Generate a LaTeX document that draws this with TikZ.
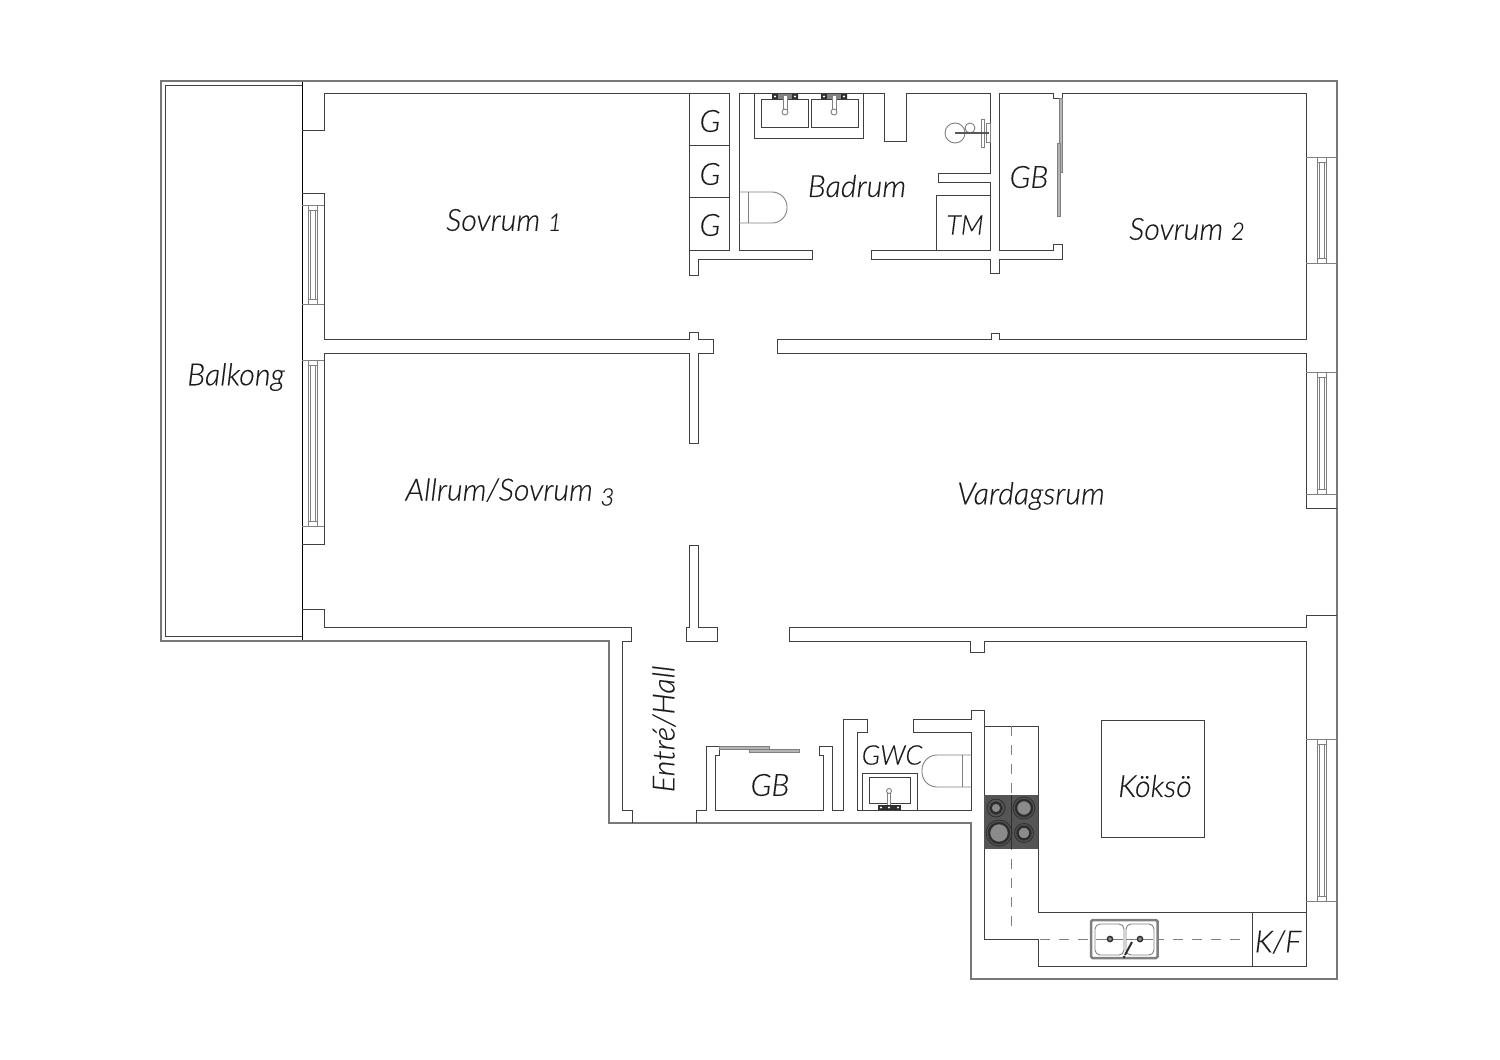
\documentclass[tikz,border=0pt]{standalone}
\usepackage{fontspec}
\setmainfont{Lato Light}[ItalicFeatures={FakeBold=0.25}]
\definecolor{wallc}{HTML}{404040}
\definecolor{outerc}{HTML}{787878}
\definecolor{softc}{HTML}{808080}
\definecolor{stovec}{HTML}{555555}
\definecolor{burnc}{HTML}{8A8A8A}
\definecolor{darkc}{HTML}{2E2E2E}
\definecolor{doorc}{HTML}{B4B4B4}
\definecolor{textc}{HTML}{1C1C1C}
\tikzset{
  wall/.style={draw=wallc,line width=1pt,line join=miter},
  outerwall/.style={draw=outerc,line width=1.5pt,line join=miter},
  thin wall/.style={draw=softc,line width=.9pt},
  fixture/.style={draw=wallc,line width=.9pt},
  door panel/.style={draw=softc,fill=doorc,line width=.7pt},
  room/.style={font=\fontsize{30.5}{32}\selectfont\itshape,text=textc,inner sep=0pt},
  small room/.style={room,font=\fontsize{27}{29}\selectfont\itshape},
  burner/.style={draw=darkc,fill=burnc,line width=2.4pt},
  tap/.style={fill=darkc,draw=none},
}
\newcommand{\oldA}{{\fontsize{24}{24}\selectfont 1}}
\newcommand{\oldB}{{\fontsize{24}{24}\selectfont 2}}
\newcommand{\oldC}{\raisebox{-5pt}{\fontsize{24}{24}\selectfont 3}}
\newcommand{\winV}[2]{% top y, bottom y of a window in the left wall
  \draw[thin wall] (308,#1) -- (308,#2) (317,#1) -- (317,#2) (310.5,#1+5) -- (310.5,#2-5) (315,#1+5) -- (315,#2-5)
    (308,#1+5) -- (317,#1+5) (308,#2-5) -- (317,#2-5);}
\newcommand{\winR}[2]{% same, right wall
  \draw[thin wall] (1317,#1) -- (1317,#2) (1326,#1) -- (1326,#2) (1319.5,#1+5) -- (1319.5,#2-5) (1324,#1+5) -- (1324,#2-5)
    (1317,#1+5) -- (1326,#1+5) (1317,#2-5) -- (1326,#2-5);}
\begin{document}
\begin{tikzpicture}[x=1pt,y=-1pt]
\useasboundingbox[fill=white] (0,0) rectangle (1500,1060);
% balcony
\draw[outerwall] (302,81) -- (161,81) -- (161,641) -- (302,641);
\draw[wall] (302,85) -- (165.5,85) -- (165.5,636) -- (302,636);
\draw[draw=black,line width=.9pt] (302,81) -- (302,641);
% outer walls
\draw[outerwall] (302,81) -- (1337,81) -- (1337,979) -- (971,979) -- (971,823) -- (609,823) -- (609,641) -- (302,641);
% bedroom wing, top
\draw[wall] (302,130.5) -- (324,130.5) -- (324,93.5) -- (689,93.5) -- (689,275) -- (698,275) -- (698,259) -- (812,259) -- (812,250) -- (739,250) -- (739,93.5)
 -- (884,93.5) -- (884,141) -- (906,141) -- (906,93.5) -- (990,93.5) -- (990,173) -- (938,173) -- (938,182) -- (990,182) -- (990,250) -- (871,250) -- (871,259)
 -- (990,259) -- (990,273) -- (999,273) -- (999,259) -- (1062,259) -- (1062,244.5) -- (1053,244.5) -- (1053,250) -- (999,250) -- (999,93.5) -- (1053,93.5)
 -- (1053,98) -- (1062,98) -- (1062,93.5) -- (1306,93.5) -- (1306,339) -- (999,339) -- (999,333) -- (991,333) -- (991,339) -- (777,339) -- (777,353) -- (1306,353)
 -- (1306,508.5) -- (1337,508.5);
\draw[wall] (302,193) -- (324,193) -- (324,339) -- (689,339) -- (689,332) -- (698,332) -- (698,339.5) -- (713,339.5) -- (713,353) -- (698,353) -- (698,443)
 -- (689,443) -- (689,353) -- (324,353) -- (324,544) -- (302,544);
\draw[wall] (302,609) -- (324,609) -- (324,627) -- (631,627) -- (631,641) -- (622.5,641) -- (622.5,810) -- (632,810) -- (632,823);
\draw[wall] (696,823) -- (696,810) -- (706,810) -- (706,746.5) -- (719,746.5) -- (719,755) -- (715,755) -- (715,810) -- (823,810) -- (823,755) -- (819,755) -- (819,746.5)
 -- (832,746.5) -- (832,810) -- (843,810) -- (843,719) -- (867,719) -- (867,732) -- (857,732) -- (857,810) -- (971,810) -- (971,732) -- (913.5,732) -- (913.5,719)
 -- (971,719) -- (971,710) -- (984,710) -- (984,939) -- (1038,939) -- (1038,966) -- (1306,966) -- (1306,641) -- (984,641) -- (984,652.5) -- (970,652.5) -- (970,641)
 -- (789,641) -- (789,627) -- (1306,627) -- (1306,615) -- (1337,615);
\draw[wall] (698,545) -- (698,627) -- (717,627) -- (717,641) -- (686,641) -- (686,627) -- (689,627) -- (689,545) -- cycle;
% window reveals
\draw[thin wall] (302,205) -- (324,205) (302,304) -- (324,304) (302,360) -- (324,360) (302,526) -- (324,526);
\draw[thin wall] (1306,157) -- (1337,157) (1306,263) -- (1337,263) (1306,372) -- (1337,372) (1306,494) -- (1337,494) (1306,739) -- (1337,739) (1306,901) -- (1337,901);
\winV{205}{304}
\winV{360}{526}
\winR{157}{263}
\winR{372}{494}
\winR{739}{901}
% wardrobes
\draw[wall] (689,93.5) rectangle (729,250);
\draw[wall] (689,145) -- (729,145) (689,197) -- (729,197);
% bathroom fittings
\draw[fixture] (754,93.5) -- (754,138.5) -- (863,138.5) -- (863,93.5);
\draw[fixture] (761.5,99) rectangle (808,127) (811,99) rectangle (858,127);
\foreach \fx in {785,834}{
  \fill[tap] (\fx-13,94) rectangle (\fx-7,99) (\fx+7,94) rectangle (\fx+13,99);
  \fill[darkc!60] (\fx-7,94) rectangle (\fx+7,99);
  \draw[thin wall,fill=white] (\fx-2,95) rectangle (\fx+2,110);
  \draw[thin wall,fill=white] (\fx,112) circle[radius=3];
  \fill[white] (\fx-10,96.5) circle[radius=1.2] (\fx+10,96.5) circle[radius=1.2];
}
\draw[fixture] (936,250) -- (936,195) -- (990,195);
% toilet in bathroom
\draw[thin wall,rounded corners=15pt] (739,192) -- (787,192) -- (787,223) -- (739,223);
\draw[thin wall] (748,192) -- (748,223);
% shower
\draw[thin wall] (955,133) circle[radius=10];
\draw[thin wall] (970,128) circle[radius=5];
\draw[door panel,fill=white] (981.5,119) rectangle (984.5,147);
\draw[door panel,fill=white] (986.5,123) rectangle (990,142);
\draw[draw=darkc!80,line width=2pt] (955,133) -- (989,133);
% sliding doors
\draw[door panel] (1059,98) rectangle (1062,172);
\draw[door panel] (1057,143) rectangle (1060,216);
\draw[door panel] (719,746.5) rectangle (769,749.5);
\draw[door panel] (749,749.5) rectangle (799,752);
% guest toilet
\draw[thin wall,rounded corners=15pt] (971,755) -- (922,755) -- (922,787) -- (971,787);
\draw[thin wall] (962,755) -- (962,787);
\draw[fixture] (862.5,810) -- (862.5,773.5) -- (917,773.5) -- (917,810);
\draw[fixture] (869,777) rectangle (910,803);
\draw[thin wall,fill=white] (887.5,791) rectangle (890.5,808);
\draw[thin wall,fill=white] (889,791) circle[radius=2.5];
\fill[tap] (878,805) rectangle (901,810);
\fill[white] (881,807.5) circle[radius=1.2] (898,807.5) circle[radius=1.2] (889,807.5) circle[radius=1.2];
% kitchen
\draw[wall] (984,726) -- (1038,726) -- (1038,912) -- (1306,912);
\draw[wall] (1252,912) -- (1252,966);
\draw[wall] (1101.5,720.5) rectangle (1204,837);
\draw[softc,dash pattern=on 10pt off 9pt,line width=1pt] (1011,726) -- (1011,933);
\draw[softc,dash pattern=on 10pt off 9pt,line width=1pt] (1040,939) -- (1245,939);
\fill[stovec] (984,795) rectangle (1038,849);
\draw[darkc,line width=.8pt] (1011,795) -- (1011,849);
\draw[burner] (996,808) circle[radius=5.5];
\draw[draw=darkc,line width=.8pt] (996,808) circle[radius=9];
\draw[burner] (1024,808) circle[radius=8];
\draw[draw=darkc,line width=.8pt] (1024,808) circle[radius=11];
\draw[burner] (999,833) circle[radius=10];
\draw[draw=darkc,line width=.8pt] (999,833) circle[radius=13];
\draw[burner] (1024,833) circle[radius=6.5];
\draw[draw=darkc,line width=.8pt] (1024,833) circle[radius=9.5];
% kitchen sink
\draw[draw=softc,fill=white,line width=2.5pt,rounded corners=1.5pt] (1091,920) rectangle (1157.5,958);
\draw[thin wall,rounded corners=5pt] (1095,924) rectangle (1124,955) (1126,924) rectangle (1154,955);
\foreach \dx in {1110,1140}{
  \draw[draw=softc,line width=.8pt] (\dx-14,939) -- (\dx+13,939);
  \draw[draw=darkc,fill=burnc,line width=1.4pt] (\dx,939) circle[radius=2.6];
}
\draw[draw=darkc,line width=2pt] (1132,942) -- (1125,955);
\fill[darkc] (1124,957) circle[radius=1.5];
% labels
\node[room] (lbalk) at (236,377) {Balkong};
\node[room] (lsov1) at (504,220) {Sovrum \oldA};
\node[room] (lall) at (510,492) {Allrum/Sovrum \oldC};
\node[room] (lbad) at (857,186) {Badrum};
\node[room] (lsov2) at (1187,229) {Sovrum \oldB};
\node[room] (lvard) at (1031,496) {Vardagsrum};
\node[room] (lgb1) at (1029,177) {GB};
\node[small room] (ltm) at (965,225) {TM};
\node[room] (lg1) at (710,121) {G};
\node[room] (lg2) at (710,174) {G};
\node[room] (lg3) at (710,225) {G};
\node[room,rotate=90] (lhall) at (664,729) {Entré/Hall};
\node[room] (lgb2) at (770,785) {GB};
\node[small room] (lgwc) at (892,755) {GWC};
\node[room] (lkok) at (1155,786) {Köksö};
\node[room] (lkf) at (1278,942) {K/F};
\end{tikzpicture}
\end{document}
